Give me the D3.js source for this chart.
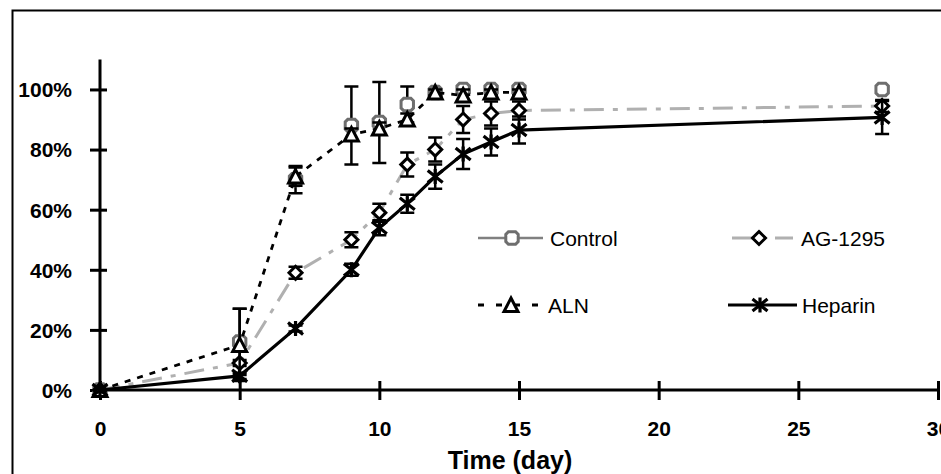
<!DOCTYPE html>
<html><head><meta charset="utf-8">
<script src="https://cdn.jsdelivr.net/npm/d3@7"></script>
<style>
body{margin:0;background:#fff;}
svg{display:block;font-family:"Liberation Sans",Arial,sans-serif;}
</style></head>
<body>
<svg id="c" width="941" height="474"></svg>
<script>
// ---- data ----
const xTicks = [0,5,10,15,20,25,30];
const yTicks = [0,0.2,0.4,0.6,0.8,1.0];
const seriesNames = ["Control","AG-1295","ALN","Heparin"];

const controlDays = [0,5,7,9,10,11,12,13,14,15,28];
const controlVals = [0,0.16,0.70,0.88,0.89,0.95,0.99,1.00,1.00,1.00,1.00];
const controlErr  = [0,0.11,0.045,0.13,0.135,0.06,0.01,0.01,0.01,0.01,0.01];

const agDays = [0,5,7,9,10,11,12,13,14,15,20,28];
const agVals = [0,0.09,0.39,0.50,0.59,0.75,0.80,0.90,0.92,0.93,0.935,0.945];
const agErr  = [0,0.01,0.02,0.025,0.03,0.04,0.04,0.045,0.04,0.03,null,0.02];

const alnDays = [0,5,7,9,10,11,12,13,14,15];
const alnVals = [0,0.15,0.71,0.85,0.87,0.90,0.99,0.98,0.99,0.99];
const alnErr  = [0,0.12,0.03,0.02,0.02,0.02,0.01,0.02,0.01,0.01];

const hepDays = [0,5,7,9,10,11,12,13,14,15,28];
const hepVals = [0,0.047,0.205,0.40,0.54,0.62,0.71,0.785,0.825,0.865,0.907];
const hepErr  = [0,0.01,0.01,0.02,0.025,0.03,0.04,0.05,0.045,0.045,0.055];

// ---- layout ----
const svg = d3.select("#c");
const x = d3.scaleLinear().domain([0,30]).range([100,938]);
const y = d3.scaleLinear().domain([0,1.1]).range([390,59.4]);

// frame
svg.append("rect").attr("x",12.5).attr("y",10.5).attr("width",940).attr("height",470)
  .attr("fill","none").attr("stroke","#000").attr("stroke-width",2);

// axes
const yAxis = svg.append("g").attr("transform","translate(100,0)")
  .call(d3.axisLeft(y).tickValues(yTicks).tickFormat(d3.format(".0%")).tickSize(10).tickPadding(18).tickSizeOuter(0));
yAxis.select(".domain").attr("stroke","#000").attr("stroke-width",3).attr("d","M0,59.4V390");
yAxis.selectAll(".tick line").attr("x1",7).attr("stroke-width",3);
yAxis.selectAll(".tick text").attr("font-size",21).attr("font-weight","bold").attr("fill","#000")
  .attr("font-family","Liberation Sans, Arial, sans-serif").attr("dy","0.35em");

const xAxis = svg.append("g").attr("transform","translate(0,390)")
  .call(d3.axisBottom(x).tickValues(xTicks).tickSize(10).tickPadding(21).tickSizeOuter(0));
xAxis.select(".domain").attr("stroke","#000").attr("stroke-width",3).attr("d","M100,0H938");
xAxis.selectAll(".tick line").attr("y1",-9).attr("stroke-width",3);
xAxis.selectAll(".tick text").attr("font-size",21).attr("font-weight","bold").attr("fill","#000")
  .attr("font-family","Liberation Sans, Arial, sans-serif");

svg.append("text").attr("x",510).attr("y",469).attr("text-anchor","middle")
  .attr("font-size",25).attr("font-weight","bold").text("Time (day)");

// ---- mark helpers ----
function marker(g, type, cx, cy){
  if(type==="circle"){
    const s=6.2, c=2.6;
    g.append("path").attr("d",`M${cx-s+c},${cy-s}H${cx+s-c}L${cx+s},${cy-s+c}V${cy+s-c}L${cx+s-c},${cy+s}H${cx-s+c}L${cx-s},${cy+s-c}V${cy-s+c}Z`)
      .attr("fill","#fff").attr("stroke","#6e6e6e").attr("stroke-width",3);
  } else if(type==="diamond"){
    const s=6.5;
    g.append("path").attr("d",`M${cx},${cy-s}L${cx+s},${cy}L${cx},${cy+s}L${cx-s},${cy}Z`)
      .attr("fill","#fff").attr("stroke","#000").attr("stroke-width",3).attr("stroke-linejoin","miter");
  } else if(type==="triangle"){
    const s=7;
    g.append("path").attr("d",`M${cx},${cy-s}L${cx+s},${cy+s-0.5}L${cx-s},${cy+s-0.5}Z`)
      .attr("fill","#fff").attr("stroke","#000").attr("stroke-width",3).attr("stroke-linejoin","miter");
  } else if(type==="star"){
    const s=7.5;
    g.append("path").attr("d",`M${cx-s},${cy-s*0.8}L${cx+s},${cy+s*0.8}M${cx+s},${cy-s*0.8}L${cx-s},${cy+s*0.8}M${cx},${cy-s}L${cx},${cy+s}`)
      .attr("fill","none").attr("stroke","#000").attr("stroke-width",3.2);
  }
}
function errBars(g, days, vals, errs){
  days.forEach((d,i)=>{
    const e = errs[i]; if(e===null || e===0) return;
    const cx=x(d), y1=y(vals[i]+e), y2=y(vals[i]-e);
    g.append("path").attr("d",`M${cx},${y1}V${y2}M${cx-7},${y1}H${cx+7}M${cx-7},${y2}H${cx+7}`)
      .attr("fill","none").attr("stroke","#000").attr("stroke-width",2.5);
  });
}
const line = d3.line().x(d=>x(d[0])).y(d=>y(d[1]));

const plot = svg.append("g");

// Control (markers only)
const gC = plot.append("g");
errBars(gC, controlDays, controlVals, controlErr);
controlDays.forEach((d,i)=>marker(gC,"circle",x(d),y(controlVals[i])));

// AG-1295
const gA = plot.append("g");
gA.append("path").attr("d",line(agDays.map((d,i)=>[d,agVals[i]])))
  .attr("fill","none").attr("stroke","#b0b0b0").attr("stroke-width",3).attr("stroke-dasharray","20,9,5,9");
errBars(gA, agDays, agVals, agErr);
agDays.forEach((d,i)=>{ if(agErr[i]!==null) marker(gA,"diamond",x(d),y(agVals[i])); });

// ALN
const gL = plot.append("g");
gL.append("path").attr("d",line(alnDays.map((d,i)=>[d,alnVals[i]])))
  .attr("fill","none").attr("stroke","#000").attr("stroke-width",2.8).attr("stroke-dasharray","6,7");
errBars(gL, alnDays, alnVals, alnErr);
alnDays.forEach((d,i)=>marker(gL,"triangle",x(d),y(alnVals[i])));

// Heparin
const gH = plot.append("g");
gH.append("path").attr("d",line(hepDays.map((d,i)=>[d,hepVals[i]])))
  .attr("fill","none").attr("stroke","#000").attr("stroke-width",3.2);
errBars(gH, hepDays, hepVals, hepErr);
hepDays.forEach((d,i)=>marker(gH,"star",x(d),y(hepVals[i])));

// ---- legend ----
const legendItems = [
  {name:seriesNames[0], x0:478, x1:543, mx:512, tx:550, ly:238, stroke:"#808080", dash:null, w:2.5, m:"circle"},
  {name:seriesNames[1], x0:732, x1:793, mx:759, tx:801, ly:238, stroke:"#b0b0b0", dash:"20,9,5,9", w:3, m:"diamond"},
  {name:seriesNames[2], x0:478, x1:543, mx:511, tx:548, ly:305, stroke:"#000", dash:"6,12", w:2.8, m:"triangle"},
  {name:seriesNames[3], x0:728, x1:797, mx:760, tx:802, ly:305, stroke:"#000", dash:null, w:3.2, m:"star"}
];
const lg = svg.append("g");
legendItems.forEach(it=>{
  const p = lg.append("line").attr("x1",it.x0).attr("x2",it.x1).attr("y1",it.ly).attr("y2",it.ly)
    .attr("stroke",it.stroke).attr("stroke-width",it.w);
  if(it.dash) p.attr("stroke-dasharray",it.dash);
  marker(lg,it.m,it.mx,it.ly);
  lg.append("text").attr("x",it.tx).attr("y",it.ly).attr("dy","0.36em")
    .attr("font-size",21).attr("fill","#000").text(it.name);
});
</script>
</body></html>
